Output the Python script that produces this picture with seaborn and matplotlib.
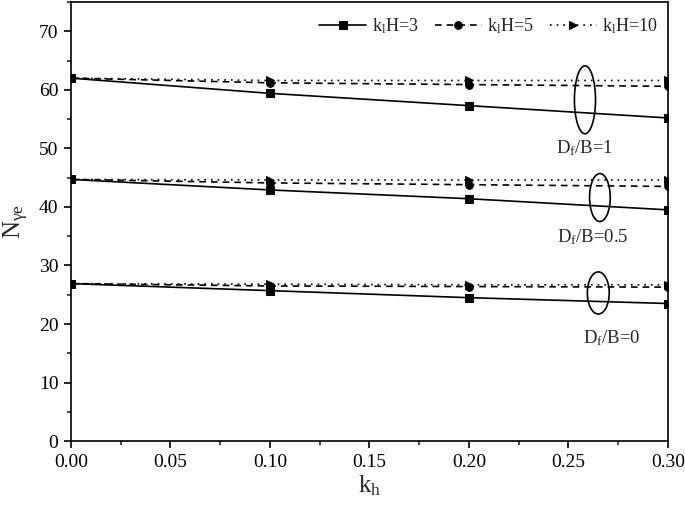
import numpy as np
import pandas as pd
import matplotlib
matplotlib.use('Agg')
import matplotlib.pyplot as plt
import seaborn as sns
from matplotlib.patches import Ellipse
from matplotlib.ticker import MultipleLocator

# data
kh = [0.0, 0.1, 0.2, 0.3]

# Df/B = 1
df1_k3 = [62.0, 59.4, 57.3, 55.2]
df1_k5 = [62.0, 61.2, 60.9, 60.6]
df1_k10 = [62.0, 61.6, 61.6, 61.6]
# Df/B = 0.5
df05_k3 = [44.7, 42.9, 41.4, 39.5]
df05_k5 = [44.7, 44.1, 43.8, 43.5]
df05_k10 = [44.7, 44.6, 44.6, 44.6]
# Df/B = 0
df0_k3 = [26.9, 25.7, 24.5, 23.5]
df0_k5 = [26.9, 26.5, 26.4, 26.3]
df0_k10 = [26.9, 26.8, 26.7, 26.7]

sns.set_style('ticks')
plt.rcParams['font.family'] = ['Liberation Serif', 'DejaVu Serif']
plt.rcParams['mathtext.fontset'] = 'custom'
plt.rcParams['mathtext.rm'] = 'Liberation Serif'
plt.rcParams['mathtext.it'] = 'Liberation Serif:italic'

fig = plt.figure(figsize=(6.85, 5.07), dpi=100)
ax = fig.add_axes([0.1036, 0.130, 0.8715, 0.866])

styles = {
    3: dict(linestyle='-', marker='s'),
    5: dict(linestyle=(0, (4, 3)), marker='o'),
    10: dict(linestyle=(0, (1, 3)), marker='>'),
}
groups = [
    (df1_k3, df1_k5, df1_k10),
    (df05_k3, df05_k5, df05_k10),
    (df0_k3, df0_k5, df0_k10),
]

for gi, grp in enumerate(groups):
    for k, vals in zip([3, 5, 10], grp):
        d = pd.DataFrame({'kh': kh, 'N': vals})
        lbl = r'k$_{\rm l}$H=%d' % k if gi == 0 else None
        sns.lineplot(data=d, x='kh', y='N', ax=ax, color='black', lw=1.2,
                     markersize=5.5, markeredgecolor='black', label=lbl,
                     **styles[k])

# ellipses marking each Df/B group
for xc, yc, w, h in [(0.2583, 58.3, 0.0106, 11.6),
                     (0.2658, 41.6, 0.0104, 8.2),
                     (0.2650, 25.3, 0.0110, 7.2)]:
    ax.add_patch(Ellipse((xc, yc), w, h, fill=False, ec='black', lw=1.2))

ax.text(0.2583, 50.1, r'D$_{\rm f}$/B=1', ha='center', va='center', fontsize=13.5)
ax.text(0.2623, 34.9, r'D$_{\rm f}$/B=0.5', ha='center', va='center', fontsize=13.5)
ax.text(0.2719, 17.5, r'D$_{\rm f}$/B=0', ha='center', va='center', fontsize=13.5)

ax.set_xlim(0, 0.30)
ax.set_ylim(0, 75)
ax.xaxis.set_major_locator(MultipleLocator(0.05))
ax.xaxis.set_minor_locator(MultipleLocator(0.025))
ax.yaxis.set_major_locator(MultipleLocator(10))
ax.yaxis.set_minor_locator(MultipleLocator(5))
ax.xaxis.set_major_formatter(matplotlib.ticker.FormatStrFormatter('%.2f'))
ax.tick_params(which='major', direction='out', length=5, width=1.2, pad=4,
               labelsize=14, colors='black')
ax.tick_params(which='minor', direction='out', length=3, width=1.2)
for s in ax.spines.values():
    s.set_linewidth(1.2)
    s.set_color('black')

ax.set_xlabel(r'k$_{\rm h}$', fontsize=18, labelpad=2)
ax.set_ylabel(r'N$_{\rm \gamma e}$', fontsize=18, labelpad=6)

ax.legend(loc='upper right', ncol=3, frameon=False, fontsize=13,
          handlelength=2.6, columnspacing=0.9, handletextpad=0.3,
          bbox_to_anchor=(1.01, 1.005))

fig.savefig('out.png', dpi=100)
